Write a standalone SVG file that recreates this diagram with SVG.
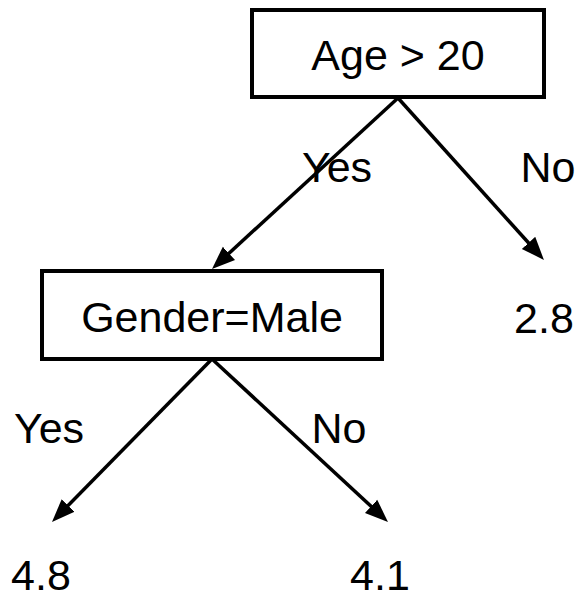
<svg xmlns="http://www.w3.org/2000/svg" width="577" height="600" viewBox="0 0 577 600">
<style>
  .box { fill: #ffffff; stroke: #000000; stroke-width: 4; }
  .edge { stroke: #000000; stroke-width: 3.5; fill: none; marker-end: url(#arrow); }
  .t { font-family: "Liberation Sans", Arial, sans-serif; font-size: 43px; fill: #000000; }
</style>
<defs>
  <marker id="arrow" markerUnits="userSpaceOnUse" markerWidth="26" markerHeight="22" viewBox="0 0 26 22" refX="15" refY="11" orient="auto">
    <path d="M0,2 L23,11 L0,20 z" fill="#000000"/>
  </marker>
</defs>
<rect width="577" height="600" fill="#ffffff"/>
<g id="connectors">
  <line class="edge" x1="398" y1="98" x2="217.9" y2="263.5"/>
  <line class="edge" x1="398" y1="98" x2="538.6" y2="254"/>
  <line class="edge" x1="212" y1="359" x2="57.6" y2="516.2"/>
  <line class="edge" x1="212" y1="359" x2="382.1" y2="516.5"/>
</g>
<g id="node-age">
  <rect class="box" x="252" y="10" width="292" height="87"/>
  <text class="t" x="398" y="70" text-anchor="middle">Age &gt; 20</text>
</g>
<g id="node-gender">
  <rect class="box" x="42" y="271" width="340" height="88"/>
  <text class="t" x="212" y="332" text-anchor="middle">Gender=Male</text>
</g>
<g id="leaf-28">
  <text class="t" x="544" y="333" text-anchor="middle">2.8</text>
</g>
<g id="leaf-48">
  <text class="t" x="41" y="590" text-anchor="middle">4.8</text>
</g>
<g id="leaf-41">
  <text class="t" x="380" y="590" text-anchor="middle">4.1</text>
</g>
<g id="labels">
  <text class="t" x="337" y="182" text-anchor="middle">Yes</text>
  <text class="t" x="548" y="182" text-anchor="middle">No</text>
  <text class="t" x="49" y="443" text-anchor="middle">Yes</text>
  <text class="t" x="339" y="443" text-anchor="middle">No</text>
</g>
</svg>
